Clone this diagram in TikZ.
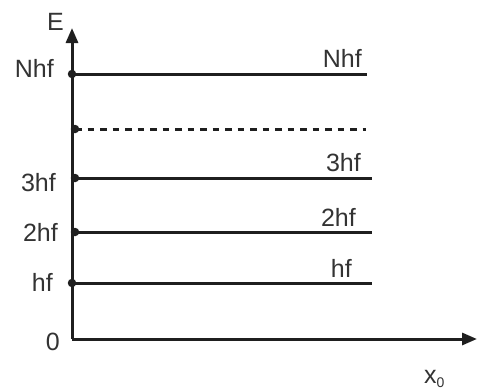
\documentclass[tikz,border=0pt]{standalone}
\usepackage{fontspec}
\setmainfont{Liberation Sans}
\usetikzlibrary{arrows.meta}
\begin{document}
\begin{tikzpicture}[x=1pt,y=-1pt,
  axis/.style={line width=3pt,draw=black!88,-{Triangle[length=15pt,width=12pt]}},
  level/.style={line width=3pt,draw=black!88},
  dlevel/.style={line width=3pt,draw=black!88,dash pattern=on 6.5pt off 6pt},
  dot/.style={circle,fill=black!88,inner sep=0pt,minimum size=8.5pt},
  lbl/.style={font=\fontsize{25}{25}\selectfont,text=black!80,inner sep=0pt}]
\useasboundingbox (0,0) rectangle (477,391);
\coordinate (O) at (72,339);
\coordinate (Ytip) at (72,28);
\coordinate (Xtip) at (477,339);
\draw[axis] (O) -- (Ytip);
\draw[axis] (O) -- (Xtip);
% levels
\coordinate (N0) at (72,74);   \coordinate (N1) at (367,74);
\coordinate (D0) at (75,129);  \coordinate (D1) at (366,129);
\coordinate (T0) at (75,178);  \coordinate (T1) at (372,178);
\coordinate (W0) at (75,232);  \coordinate (W1) at (372,232);
\coordinate (H0) at (72,283);  \coordinate (H1) at (372,283);
\draw[level] (N0) -- (N1);
\draw[dlevel] (D0) -- (D1);
\draw[level] (T0) -- (T1);
\draw[level] (W0) -- (W1);
\draw[level] (H0) -- (H1);
\node[dot] (dN) at (N0) {};
\node[dot] (dD) at (D0) {};
\node[dot] (dT) at (T0) {};
\node[dot] (dW) at (W0) {};
\node[dot] (dH) at (H0) {};
% left labels
\node[lbl,anchor=east] (lE) at (64,22) {E};
\node[lbl,anchor=east] (lN) at (54,68) {Nhf};
\node[lbl,anchor=east] (lT) at (56,183) {3hf};
\node[lbl,anchor=east] (lW) at (58,232) {2hf};
\node[lbl,anchor=east] (lH) at (53,282) {hf};
\node[lbl,anchor=east] (l0) at (60,342) {0};
% right labels
\node[lbl,anchor=east] (rN) at (362,58) {Nhf};
\node[lbl,anchor=east] (rT) at (361,163) {3hf};
\node[lbl,anchor=east] (rW) at (356,217) {2hf};
\node[lbl,anchor=east] (rH) at (352,268) {hf};
\node[lbl,anchor=west] (rX) at (424,379) {x\raisebox{-0.35ex}{\fontsize{14}{14}\selectfont 0}};
\end{tikzpicture}
\end{document}
